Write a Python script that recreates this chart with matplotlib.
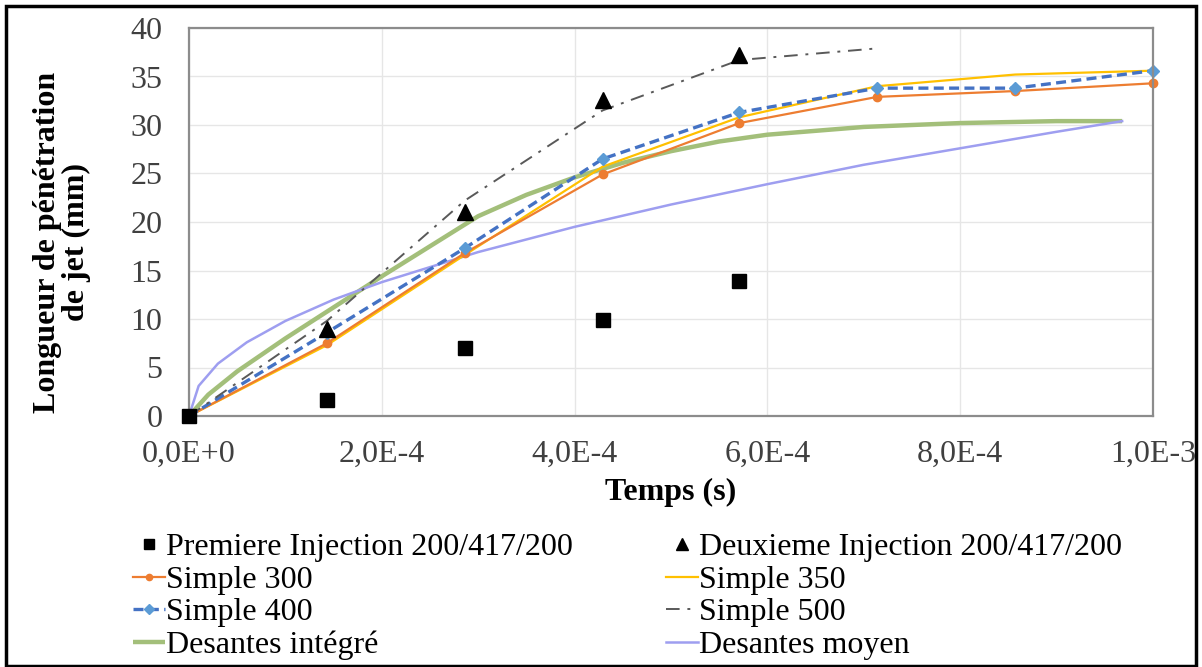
import numpy as np
import matplotlib
matplotlib.use("Agg")
import matplotlib.pyplot as plt
from matplotlib.ticker import FuncFormatter
from matplotlib.patches import Rectangle

# ---- data ----
t_steps = [0.0, 1.43e-4, 2.86e-4, 4.29e-4, 5.71e-4, 7.14e-4, 8.57e-4, 1.0e-3]

premiere_t = [0.0, 1.43e-4, 2.86e-4, 4.29e-4, 5.71e-4]
premiere_y = [0.0, 1.7, 7.0, 9.9, 13.9]

deuxieme_t = [1.43e-4, 2.86e-4, 4.29e-4, 5.71e-4]
deuxieme_y = [9.0, 21.0, 32.6, 37.2]

simple300_y = [0.0, 7.5, 16.8, 24.9, 30.2, 32.9, 33.5, 34.3]
simple350_y = [0.0, 7.3, 16.6, 25.7, 30.8, 34.0, 35.2, 35.6]
simple400_y = [0.0, 8.6, 17.3, 26.5, 31.3, 33.8, 33.8, 35.6]

simple500_t = [0.0, 1.43e-4, 2.86e-4, 4.29e-4, 5.71e-4, 7.14e-4]
simple500_y = [0.0, 9.8, 22.2, 31.5, 36.7, 37.9]

desantes_int_t = [0.0, 0.2e-4, 0.5e-4, 1.0e-4, 1.5e-4, 2.0e-4, 2.5e-4, 3.0e-4, 3.5e-4,
                  4.0e-4, 4.5e-4, 5.0e-4, 5.5e-4, 6.0e-4, 7.0e-4, 8.0e-4, 9.0e-4, 9.68e-4]
desantes_int_y = [0.0, 2.2, 4.6, 8.0, 11.2, 14.4, 17.5, 20.6, 22.8,
                  24.6, 26.1, 27.3, 28.3, 29.0, 29.8, 30.2, 30.4, 30.4]

desantes_moy_t = [0.0, 0.1e-4, 0.3e-4, 0.6e-4, 1.0e-4, 1.5e-4, 2.0e-4, 3.0e-4, 4.0e-4,
                  5.0e-4, 6.0e-4, 7.0e-4, 8.0e-4, 9.0e-4, 9.68e-4]
desantes_moy_y = [0.0, 3.1, 5.4, 7.6, 9.8, 12.0, 13.8, 16.9, 19.5,
                  21.8, 23.9, 25.9, 27.6, 29.3, 30.4]

x_ticks = [0.0, 2e-4, 4e-4, 6e-4, 8e-4, 1e-3]
y_ticks = [0, 5, 10, 15, 20, 25, 30, 35, 40]

labels = ["Premiere Injection 200/417/200", "Deuxieme Injection 200/417/200",
          "Simple 300", "Simple 350", "Simple 400", "Simple 500",
          "Desantes intégré", "Desantes moyen"]

# ---- figure ----
W, H = 1202, 667
fig = plt.figure(figsize=(W / 100, H / 100), dpi=100)
plt.rcParams['font.family'] = ['Liberation Serif', 'DejaVu Serif']
FS = 23

def px_axes(l, t, r, b):
    return [l / W, 1 - b / H, (r - l) / W, (b - t) / H]

ax = fig.add_axes(px_axes(189, 28, 1153, 416))

h_di, = ax.plot(desantes_int_t, desantes_int_y, color='#A3BF7A', lw=3.2, solid_capstyle='butt')
h_dm, = ax.plot(desantes_moy_t, desantes_moy_y, color='#9E9EF0', lw=1.8)
h_350, = ax.plot(t_steps, simple350_y, color='#FFC000', lw=1.6)
h_300, = ax.plot(t_steps, simple300_y, color='#ED7D31', lw=1.6, marker='o', ms=6,
                 clip_on=False)
h_400, = ax.plot(t_steps, simple400_y, color='#4472C4', lw=2.4, ls=(0, (3.0, 1.6)),
                 marker='D', ms=6.5, mfc='#5B9BD5', mec='#5B9BD5', clip_on=False)
h_500, = ax.plot(simple500_t, simple500_y, color='#595959', lw=1.4,
                 ls=(0, (7, 4, 1.5, 4)))
h_prem, = ax.plot(premiere_t, premiere_y, ls='none', marker='s', ms=10.5, color='black',
                  clip_on=False, zorder=5)
h_deux, = ax.plot(deuxieme_t, deuxieme_y, ls='none', marker='^', ms=12, color='black',
                  clip_on=False, zorder=5)

ax.set_xlim(0, 1e-3)
ax.set_ylim(0, 40)
ax.set_xticks(x_ticks)
ax.set_yticks(y_ticks)

def sci_fmt(v, pos):
    if abs(v) < 1e-15:
        return "0,0E+0"
    e = int(np.floor(np.log10(abs(v)) + 1e-9))
    m = v / 10 ** e
    return f"{m:.1f}".replace('.', ',') + f"E{e:+d}"

ax.xaxis.set_major_formatter(FuncFormatter(sci_fmt))
ax.tick_params(axis='both', length=0, labelsize=FS)
ax.tick_params(axis='x', pad=17)
ax.tick_params(axis='y', pad=19)
for lab in ax.get_xticklabels() + ax.get_yticklabels():
    lab.set_color('#404040')

ax.grid(True, color='#E6E6E6', lw=1.0)
ax.set_axisbelow(True)
for s in ax.spines.values():
    s.set_color('#8C8C8C')
    s.set_linewidth(1.6)

fig.text(671 / W, 1 - 492 / H, "Temps (s)", ha='center', va='center',
         fontsize=FS, fontweight='bold')
fig.text(62 / W, 1 - 242 / H, "Longueur de pénétration\nde jet (mm)", ha='center',
         va='center', rotation=90, fontsize=FS, fontweight='bold', linespacing=1.0)

handles = [h_prem, h_300, h_400, h_di, h_deux, h_350, h_500, h_dm]
labs = [labels[0], labels[2], labels[4], labels[6], labels[1], labels[3], labels[5], labels[7]]
leg = fig.legend(handles, labs, ncol=2, frameon=False, fontsize=FS,
                 loc='upper left', bbox_to_anchor=(120 / W, 1 - 520 / H),
                 handlelength=1.0, handletextpad=0.05, columnspacing=2.9,
                 labelspacing=0.1, borderaxespad=0, markerscale=0.75)

fig.patches.append(Rectangle((6 / W, 0.002), (W - 12) / W, 1 - 6 / H - 0.002,
                             transform=fig.transFigure, fill=False, ec='black', lw=2.5))

fig.savefig("out.png", dpi=100)
